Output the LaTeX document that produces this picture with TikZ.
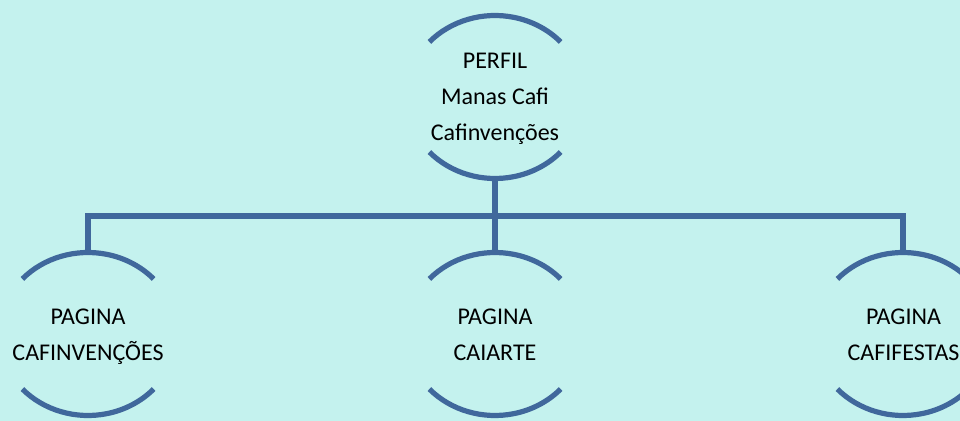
\documentclass[tikz,border=0pt]{standalone}
\usepackage{fontspec}
\setmainfont{Carlito}
\usetikzlibrary{shapes.geometric}
\definecolor{bg}{RGB}{196,242,238}
\definecolor{ln}{RGB}{64,104,156}
\tikzset{
  arcline/.style={draw=ln, line width=3.9pt},
  conn/.style={draw=ln, line width=3.9pt},
  ringnode/.style={ellipse, minimum width=133.5pt, minimum height=122.25pt, inner sep=0pt, draw=none},
  txt/.style={align=center, font=\fontsize{18pt}{27pt}\selectfont, text=black, inner sep=0pt},
  ring/.pic={
    \draw[arcline] (137.5:66.75pt and 61.125pt) arc[start angle=137.5, end angle=42.5, x radius=66.75pt, y radius=61.125pt];
    \draw[arcline] (222.5:66.75pt and 61.125pt) arc[start angle=222.5, end angle=317.5, x radius=66.75pt, y radius=61.125pt];
  }
}
\begin{document}
\begin{tikzpicture}[x=0.75pt,y=0.75pt]
\fill[bg] (0,0) rectangle (960,421);
\useasboundingbox (0,0) rectangle (960,421);
% rings
\node[ringnode] (r0) at (495,324) {};
\node[ringnode] (r1) at (88,87) {};
\node[ringnode] (r2) at (495,87) {};
\node[ringnode] (r3) at (903,87) {};
\pic at (r0.center) {ring};
\pic at (r1.center) {ring};
\pic at (r2.center) {ring};
\pic at (r3.center) {ring};
% texts
\node[txt] (t0) at (495,322.5) {PERFIL\\Manas Cafi\\Cafinvenções};
\node[txt] (t1) at (88,84) {PAGINA\\CAFINVENÇÕES};
\node[txt] (t2) at (495,86) {PAGINA\\CAIARTE};
\node[txt] (t3) at (903.5,86) {PAGINA\\CAFIFESTAS};
% connectors
\coordinate (bus) at (0,205);
\draw[conn] (r0.south) -- (r2.north);
\draw[conn] (r1.north) |- (r3.north |- bus) -- (r3.north);
\end{tikzpicture}
\end{document}
